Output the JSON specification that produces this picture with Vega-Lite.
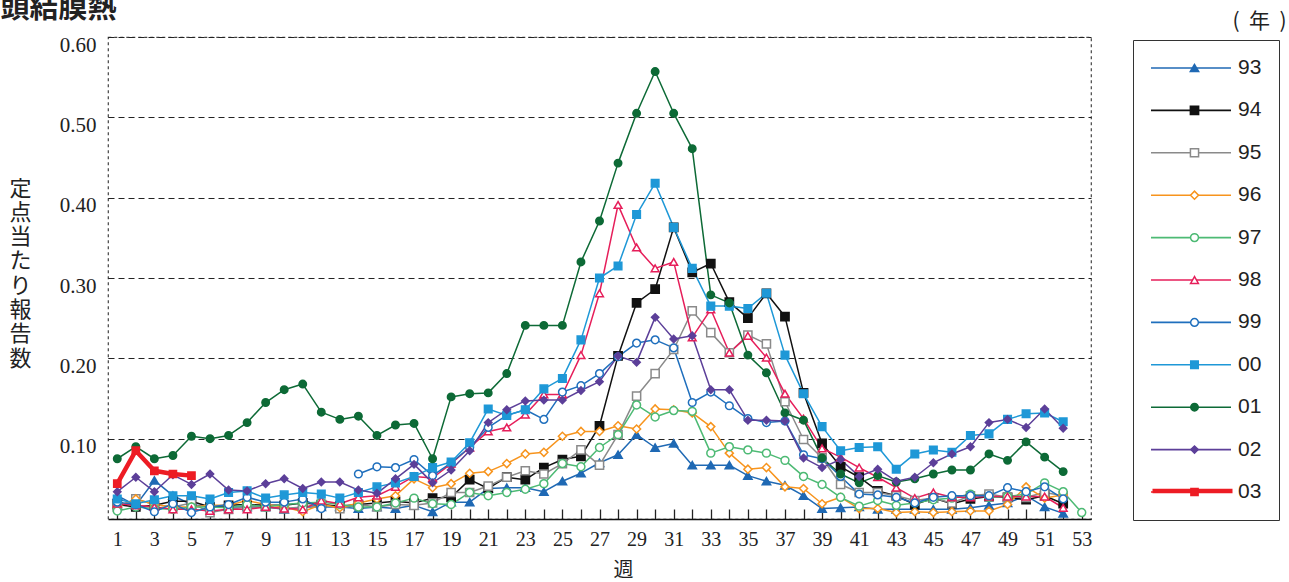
{
  "$schema": "https://vega.github.io/schema/vega-lite/v6.json",
  "width": 983,
  "height": 482,
  "autosize": {"type": "none"},
  "padding": {"left": 108, "top": 37, "right": 198, "bottom": 63},
  "background": "white",
  "config": {
    "view": {"stroke": "#444", "strokeDash": [3, 3], "strokeWidth": 1.2},
    "axis": {"labelColor": "#222", "titleColor": "#222"}
  },
  "data": {"values": [
{"s":"93","w":1,"v":0.029},{"s":"93","w":2,"v":0.017},{"s":"93","w":3,"v":0.048},{"s":"93","w":4,"v":0.029},{"s":"93","w":5,"v":0.018},{"s":"93","w":6,"v":0.015},{"s":"93","w":7,"v":0.015},{"s":"93","w":8,"v":0.015},{"s":"93","w":9,"v":0.015},{"s":"93","w":10,"v":0.012},{"s":"93","w":11,"v":0.015},{"s":"93","w":12,"v":0.015},{"s":"93","w":13,"v":0.015},{"s":"93","w":14,"v":0.013},{"s":"93","w":15,"v":0.015},{"s":"93","w":16,"v":0.013},{"s":"93","w":17,"v":0.017},{"s":"93","w":18,"v":0.009},{"s":"93","w":19,"v":0.021},{"s":"93","w":20,"v":0.021},{"s":"93","w":21,"v":0.038},{"s":"93","w":22,"v":0.039},{"s":"93","w":23,"v":0.039},{"s":"93","w":24,"v":0.034},{"s":"93","w":25,"v":0.047},{"s":"93","w":26,"v":0.057},{"s":"93","w":27,"v":0.070},{"s":"93","w":28,"v":0.080},{"s":"93","w":29,"v":0.105},{"s":"93","w":30,"v":0.089},{"s":"93","w":31,"v":0.094},{"s":"93","w":32,"v":0.067},{"s":"93","w":33,"v":0.067},{"s":"93","w":34,"v":0.067},{"s":"93","w":35,"v":0.054},{"s":"93","w":36,"v":0.047},{"s":"93","w":37,"v":0.042},{"s":"93","w":38,"v":0.029},{"s":"93","w":39,"v":0.013},{"s":"93","w":40,"v":0.014},{"s":"93","w":41,"v":0.015},{"s":"93","w":42,"v":0.012},{"s":"93","w":43,"v":0.012},{"s":"93","w":44,"v":0.012},{"s":"93","w":45,"v":0.012},{"s":"93","w":46,"v":0.012},{"s":"93","w":47,"v":0.014},{"s":"93","w":48,"v":0.017},{"s":"93","w":49,"v":0.020},{"s":"93","w":50,"v":0.029},{"s":"93","w":51,"v":0.015},{"s":"93","w":52,"v":0.007},
{"s":"94","w":1,"v":0.018},{"s":"94","w":2,"v":0.015},{"s":"94","w":3,"v":0.017},{"s":"94","w":4,"v":0.022},{"s":"94","w":5,"v":0.022},{"s":"94","w":6,"v":0.015},{"s":"94","w":7,"v":0.017},{"s":"94","w":8,"v":0.018},{"s":"94","w":9,"v":0.017},{"s":"94","w":10,"v":0.017},{"s":"94","w":11,"v":0.020},{"s":"94","w":12,"v":0.018},{"s":"94","w":13,"v":0.016},{"s":"94","w":14,"v":0.018},{"s":"94","w":15,"v":0.020},{"s":"94","w":16,"v":0.022},{"s":"94","w":17,"v":0.020},{"s":"94","w":18,"v":0.026},{"s":"94","w":19,"v":0.027},{"s":"94","w":20,"v":0.049},{"s":"94","w":21,"v":0.038},{"s":"94","w":22,"v":0.052},{"s":"94","w":23,"v":0.049},{"s":"94","w":24,"v":0.064},{"s":"94","w":25,"v":0.074},{"s":"94","w":26,"v":0.078},{"s":"94","w":27,"v":0.116},{"s":"94","w":28,"v":0.203},{"s":"94","w":29,"v":0.269},{"s":"94","w":30,"v":0.286},{"s":"94","w":31,"v":0.363},{"s":"94","w":32,"v":0.307},{"s":"94","w":33,"v":0.318},{"s":"94","w":34,"v":0.270},{"s":"94","w":35,"v":0.250},{"s":"94","w":36,"v":0.281},{"s":"94","w":37,"v":0.252},{"s":"94","w":38,"v":0.157},{"s":"94","w":39,"v":0.094},{"s":"94","w":40,"v":0.065},{"s":"94","w":41,"v":0.052},{"s":"94","w":42,"v":0.035},{"s":"94","w":43,"v":0.029},{"s":"94","w":44,"v":0.018},{"s":"94","w":45,"v":0.026},{"s":"94","w":46,"v":0.019},{"s":"94","w":47,"v":0.025},{"s":"94","w":48,"v":0.028},{"s":"94","w":49,"v":0.027},{"s":"94","w":50,"v":0.024},{"s":"94","w":51,"v":0.029},{"s":"94","w":52,"v":0.019},
{"s":"95","w":1,"v":0.015},{"s":"95","w":2,"v":0.025},{"s":"95","w":3,"v":0.018},{"s":"95","w":4,"v":0.015},{"s":"95","w":5,"v":0.020},{"s":"95","w":6,"v":0.008},{"s":"95","w":7,"v":0.012},{"s":"95","w":8,"v":0.015},{"s":"95","w":9,"v":0.015},{"s":"95","w":10,"v":0.013},{"s":"95","w":11,"v":0.015},{"s":"95","w":12,"v":0.018},{"s":"95","w":13,"v":0.013},{"s":"95","w":14,"v":0.018},{"s":"95","w":15,"v":0.015},{"s":"95","w":16,"v":0.018},{"s":"95","w":17,"v":0.017},{"s":"95","w":18,"v":0.020},{"s":"95","w":19,"v":0.033},{"s":"95","w":20,"v":0.033},{"s":"95","w":21,"v":0.041},{"s":"95","w":22,"v":0.052},{"s":"95","w":23,"v":0.060},{"s":"95","w":24,"v":0.056},{"s":"95","w":25,"v":0.069},{"s":"95","w":26,"v":0.086},{"s":"95","w":27,"v":0.067},{"s":"95","w":28,"v":0.105},{"s":"95","w":29,"v":0.153},{"s":"95","w":30,"v":0.181},{"s":"95","w":31,"v":0.211},{"s":"95","w":32,"v":0.259},{"s":"95","w":33,"v":0.232},{"s":"95","w":34,"v":0.207},{"s":"95","w":35,"v":0.229},{"s":"95","w":36,"v":0.218},{"s":"95","w":37,"v":0.146},{"s":"95","w":38,"v":0.099},{"s":"95","w":39,"v":0.076},{"s":"95","w":40,"v":0.043},{"s":"95","w":41,"v":0.033},{"s":"95","w":42,"v":0.033},{"s":"95","w":43,"v":0.029},{"s":"95","w":44,"v":0.023},{"s":"95","w":45,"v":0.026},{"s":"95","w":46,"v":0.020},{"s":"95","w":47,"v":0.029},{"s":"95","w":48,"v":0.031},{"s":"95","w":49,"v":0.027},{"s":"95","w":50,"v":0.027},{"s":"95","w":51,"v":0.033},{"s":"95","w":52,"v":0.029},
{"s":"96","w":1,"v":0.015},{"s":"96","w":2,"v":0.025},{"s":"96","w":3,"v":0.018},{"s":"96","w":4,"v":0.015},{"s":"96","w":5,"v":0.015},{"s":"96","w":6,"v":0.017},{"s":"96","w":7,"v":0.017},{"s":"96","w":8,"v":0.023},{"s":"96","w":9,"v":0.018},{"s":"96","w":10,"v":0.015},{"s":"96","w":11,"v":0.009},{"s":"96","w":12,"v":0.018},{"s":"96","w":13,"v":0.014},{"s":"96","w":14,"v":0.020},{"s":"96","w":15,"v":0.025},{"s":"96","w":16,"v":0.029},{"s":"96","w":17,"v":0.050},{"s":"96","w":18,"v":0.039},{"s":"96","w":19,"v":0.044},{"s":"96","w":20,"v":0.057},{"s":"96","w":21,"v":0.059},{"s":"96","w":22,"v":0.069},{"s":"96","w":23,"v":0.081},{"s":"96","w":24,"v":0.083},{"s":"96","w":25,"v":0.103},{"s":"96","w":26,"v":0.109},{"s":"96","w":27,"v":0.109},{"s":"96","w":28,"v":0.116},{"s":"96","w":29,"v":0.112},{"s":"96","w":30,"v":0.137},{"s":"96","w":31,"v":0.136},{"s":"96","w":32,"v":0.132},{"s":"96","w":33,"v":0.115},{"s":"96","w":34,"v":0.082},{"s":"96","w":35,"v":0.062},{"s":"96","w":36,"v":0.064},{"s":"96","w":37,"v":0.040},{"s":"96","w":38,"v":0.038},{"s":"96","w":39,"v":0.019},{"s":"96","w":40,"v":0.027},{"s":"96","w":41,"v":0.013},{"s":"96","w":42,"v":0.013},{"s":"96","w":43,"v":0.008},{"s":"96","w":44,"v":0.009},{"s":"96","w":45,"v":0.008},{"s":"96","w":46,"v":0.009},{"s":"96","w":47,"v":0.010},{"s":"96","w":48,"v":0.010},{"s":"96","w":49,"v":0.018},{"s":"96","w":50,"v":0.040},{"s":"96","w":51,"v":0.026},{"s":"96","w":52,"v":0.030},
{"s":"97","w":1,"v":0.010},{"s":"97","w":2,"v":0.015},{"s":"97","w":3,"v":0.013},{"s":"97","w":4,"v":0.012},{"s":"97","w":5,"v":0.015},{"s":"97","w":6,"v":0.015},{"s":"97","w":7,"v":0.014},{"s":"97","w":8,"v":0.018},{"s":"97","w":9,"v":0.015},{"s":"97","w":10,"v":0.018},{"s":"97","w":11,"v":0.020},{"s":"97","w":12,"v":0.021},{"s":"97","w":13,"v":0.018},{"s":"97","w":14,"v":0.015},{"s":"97","w":15,"v":0.015},{"s":"97","w":16,"v":0.020},{"s":"97","w":17,"v":0.026},{"s":"97","w":18,"v":0.019},{"s":"97","w":19,"v":0.018},{"s":"97","w":20,"v":0.033},{"s":"97","w":21,"v":0.029},{"s":"97","w":22,"v":0.033},{"s":"97","w":23,"v":0.037},{"s":"97","w":24,"v":0.044},{"s":"97","w":25,"v":0.069},{"s":"97","w":26,"v":0.065},{"s":"97","w":27,"v":0.089},{"s":"97","w":28,"v":0.105},{"s":"97","w":29,"v":0.142},{"s":"97","w":30,"v":0.127},{"s":"97","w":31,"v":0.135},{"s":"97","w":32,"v":0.134},{"s":"97","w":33,"v":0.082},{"s":"97","w":34,"v":0.090},{"s":"97","w":35,"v":0.086},{"s":"97","w":36,"v":0.082},{"s":"97","w":37,"v":0.073},{"s":"97","w":38,"v":0.053},{"s":"97","w":39,"v":0.043},{"s":"97","w":40,"v":0.027},{"s":"97","w":41,"v":0.016},{"s":"97","w":42,"v":0.023},{"s":"97","w":43,"v":0.017},{"s":"97","w":44,"v":0.020},{"s":"97","w":45,"v":0.024},{"s":"97","w":46,"v":0.026},{"s":"97","w":47,"v":0.031},{"s":"97","w":48,"v":0.027},{"s":"97","w":49,"v":0.028},{"s":"97","w":50,"v":0.031},{"s":"97","w":51,"v":0.045},{"s":"97","w":52,"v":0.034},{"s":"97","w":53,"v":0.008},
{"s":"98","w":1,"v":0.019},{"s":"98","w":2,"v":0.017},{"s":"98","w":3,"v":0.015},{"s":"98","w":4,"v":0.012},{"s":"98","w":5,"v":0.012},{"s":"98","w":6,"v":0.010},{"s":"98","w":7,"v":0.012},{"s":"98","w":8,"v":0.012},{"s":"98","w":9,"v":0.015},{"s":"98","w":10,"v":0.013},{"s":"98","w":11,"v":0.012},{"s":"98","w":12,"v":0.023},{"s":"98","w":13,"v":0.019},{"s":"98","w":14,"v":0.027},{"s":"98","w":15,"v":0.029},{"s":"98","w":16,"v":0.040},{"s":"98","w":17,"v":0.053},{"s":"98","w":18,"v":0.051},{"s":"98","w":19,"v":0.069},{"s":"98","w":20,"v":0.089},{"s":"98","w":21,"v":0.109},{"s":"98","w":22,"v":0.114},{"s":"98","w":23,"v":0.130},{"s":"98","w":24,"v":0.155},{"s":"98","w":25,"v":0.155},{"s":"98","w":26,"v":0.204},{"s":"98","w":27,"v":0.281},{"s":"98","w":28,"v":0.391},{"s":"98","w":29,"v":0.338},{"s":"98","w":30,"v":0.312},{"s":"98","w":31,"v":0.320},{"s":"98","w":32,"v":0.226},{"s":"98","w":33,"v":0.261},{"s":"98","w":34,"v":0.207},{"s":"98","w":35,"v":0.228},{"s":"98","w":36,"v":0.201},{"s":"98","w":37,"v":0.156},{"s":"98","w":38,"v":0.125},{"s":"98","w":39,"v":0.088},{"s":"98","w":40,"v":0.077},{"s":"98","w":41,"v":0.064},{"s":"98","w":42,"v":0.052},{"s":"98","w":43,"v":0.039},{"s":"98","w":44,"v":0.026},{"s":"98","w":45,"v":0.033},{"s":"98","w":46,"v":0.027},{"s":"98","w":47,"v":0.027},{"s":"98","w":48,"v":0.028},{"s":"98","w":49,"v":0.028},{"s":"98","w":50,"v":0.028},{"s":"98","w":51,"v":0.028},{"s":"98","w":52,"v":0.014},
{"s":"99","w":1,"v":0.021},{"s":"99","w":2,"v":0.018},{"s":"99","w":3,"v":0.009},{"s":"99","w":4,"v":0.019},{"s":"99","w":5,"v":0.008},{"s":"99","w":6,"v":0.015},{"s":"99","w":7,"v":0.018},{"s":"99","w":8,"v":0.027},{"s":"99","w":9,"v":0.021},{"s":"99","w":10,"v":0.021},{"s":"99","w":11,"v":0.025},{"s":"99","w":12,"v":0.013},{"s":"99","w":13,"v":null},{"s":"99","w":14,"v":0.056},{"s":"99","w":15,"v":0.065},{"s":"99","w":16,"v":0.064},{"s":"99","w":17,"v":0.074},{"s":"99","w":18,"v":0.054},{"s":"99","w":19,"v":0.070},{"s":"99","w":20,"v":0.089},{"s":"99","w":21,"v":0.114},{"s":"99","w":22,"v":0.129},{"s":"99","w":23,"v":0.136},{"s":"99","w":24,"v":0.124},{"s":"99","w":25,"v":0.158},{"s":"99","w":26,"v":0.166},{"s":"99","w":27,"v":0.181},{"s":"99","w":28,"v":0.202},{"s":"99","w":29,"v":0.219},{"s":"99","w":30,"v":0.223},{"s":"99","w":31,"v":0.213},{"s":"99","w":32,"v":0.145},{"s":"99","w":33,"v":0.158},{"s":"99","w":34,"v":0.141},{"s":"99","w":35,"v":0.125},{"s":"99","w":36,"v":0.120},{"s":"99","w":37,"v":0.122},{"s":"99","w":38,"v":0.080},{"s":"99","w":39,"v":0.075},{"s":"99","w":40,"v":0.053},{"s":"99","w":41,"v":0.031},{"s":"99","w":42,"v":0.030},{"s":"99","w":43,"v":0.027},{"s":"99","w":44,"v":0.020},{"s":"99","w":45,"v":0.027},{"s":"99","w":46,"v":0.029},{"s":"99","w":47,"v":0.029},{"s":"99","w":48,"v":0.029},{"s":"99","w":49,"v":0.039},{"s":"99","w":50,"v":0.034},{"s":"99","w":51,"v":0.040},{"s":"99","w":52,"v":0.025},
{"s":"00","w":1,"v":0.025},{"s":"00","w":2,"v":0.019},{"s":"00","w":3,"v":0.024},{"s":"00","w":4,"v":0.029},{"s":"00","w":5,"v":0.029},{"s":"00","w":6,"v":0.025},{"s":"00","w":7,"v":0.033},{"s":"00","w":8,"v":0.035},{"s":"00","w":9,"v":0.026},{"s":"00","w":10,"v":0.030},{"s":"00","w":11,"v":0.033},{"s":"00","w":12,"v":0.031},{"s":"00","w":13,"v":0.026},{"s":"00","w":14,"v":0.033},{"s":"00","w":15,"v":0.040},{"s":"00","w":16,"v":0.045},{"s":"00","w":17,"v":0.053},{"s":"00","w":18,"v":0.064},{"s":"00","w":19,"v":0.071},{"s":"00","w":20,"v":0.095},{"s":"00","w":21,"v":0.137},{"s":"00","w":22,"v":0.129},{"s":"00","w":23,"v":0.136},{"s":"00","w":24,"v":0.162},{"s":"00","w":25,"v":0.175},{"s":"00","w":26,"v":0.223},{"s":"00","w":27,"v":0.300},{"s":"00","w":28,"v":0.315},{"s":"00","w":29,"v":0.379},{"s":"00","w":30,"v":0.418},{"s":"00","w":31,"v":0.363},{"s":"00","w":32,"v":0.312},{"s":"00","w":33,"v":0.265},{"s":"00","w":34,"v":0.265},{"s":"00","w":35,"v":0.262},{"s":"00","w":36,"v":0.281},{"s":"00","w":37,"v":0.204},{"s":"00","w":38,"v":0.156},{"s":"00","w":39,"v":0.115},{"s":"00","w":40,"v":0.085},{"s":"00","w":41,"v":0.089},{"s":"00","w":42,"v":0.090},{"s":"00","w":43,"v":0.062},{"s":"00","w":44,"v":0.081},{"s":"00","w":45,"v":0.086},{"s":"00","w":46,"v":0.083},{"s":"00","w":47,"v":0.104},{"s":"00","w":48,"v":0.106},{"s":"00","w":49,"v":0.124},{"s":"00","w":50,"v":0.131},{"s":"00","w":51,"v":0.132},{"s":"00","w":52,"v":0.121},
{"s":"01","w":1,"v":0.075},{"s":"01","w":2,"v":0.090},{"s":"01","w":3,"v":0.075},{"s":"01","w":4,"v":0.079},{"s":"01","w":5,"v":0.103},{"s":"01","w":6,"v":0.100},{"s":"01","w":7,"v":0.104},{"s":"01","w":8,"v":0.120},{"s":"01","w":9,"v":0.145},{"s":"01","w":10,"v":0.161},{"s":"01","w":11,"v":0.168},{"s":"01","w":12,"v":0.133},{"s":"01","w":13,"v":0.124},{"s":"01","w":14,"v":0.128},{"s":"01","w":15,"v":0.104},{"s":"01","w":16,"v":0.117},{"s":"01","w":17,"v":0.119},{"s":"01","w":18,"v":0.075},{"s":"01","w":19,"v":0.152},{"s":"01","w":20,"v":0.156},{"s":"01","w":21,"v":0.157},{"s":"01","w":22,"v":0.181},{"s":"01","w":23,"v":0.241},{"s":"01","w":24,"v":0.241},{"s":"01","w":25,"v":0.241},{"s":"01","w":26,"v":0.320},{"s":"01","w":27,"v":0.371},{"s":"01","w":28,"v":0.443},{"s":"01","w":29,"v":0.505},{"s":"01","w":30,"v":0.557},{"s":"01","w":31,"v":0.505},{"s":"01","w":32,"v":0.461},{"s":"01","w":33,"v":0.279},{"s":"01","w":34,"v":0.269},{"s":"01","w":35,"v":0.204},{"s":"01","w":36,"v":0.182},{"s":"01","w":37,"v":0.132},{"s":"01","w":38,"v":0.123},{"s":"01","w":39,"v":0.076},{"s":"01","w":40,"v":0.056},{"s":"01","w":41,"v":0.045},{"s":"01","w":42,"v":0.054},{"s":"01","w":43,"v":0.046},{"s":"01","w":44,"v":0.050},{"s":"01","w":45,"v":0.056},{"s":"01","w":46,"v":0.061},{"s":"01","w":47,"v":0.061},{"s":"01","w":48,"v":0.081},{"s":"01","w":49,"v":0.073},{"s":"01","w":50,"v":0.096},{"s":"01","w":51,"v":0.077},{"s":"01","w":52,"v":0.059},
{"s":"02","w":1,"v":0.034},{"s":"02","w":2,"v":0.052},{"s":"02","w":3,"v":0.034},{"s":"02","w":4,"v":0.055},{"s":"02","w":5,"v":0.043},{"s":"02","w":6,"v":0.056},{"s":"02","w":7,"v":0.036},{"s":"02","w":8,"v":0.035},{"s":"02","w":9,"v":0.044},{"s":"02","w":10,"v":0.050},{"s":"02","w":11,"v":0.038},{"s":"02","w":12,"v":0.046},{"s":"02","w":13,"v":0.046},{"s":"02","w":14,"v":0.036},{"s":"02","w":15,"v":0.032},{"s":"02","w":16,"v":0.050},{"s":"02","w":17,"v":0.068},{"s":"02","w":18,"v":0.045},{"s":"02","w":19,"v":0.061},{"s":"02","w":20,"v":0.085},{"s":"02","w":21,"v":0.120},{"s":"02","w":22,"v":0.136},{"s":"02","w":23,"v":0.147},{"s":"02","w":24,"v":0.148},{"s":"02","w":25,"v":0.148},{"s":"02","w":26,"v":0.160},{"s":"02","w":27,"v":0.171},{"s":"02","w":28,"v":0.203},{"s":"02","w":29,"v":0.195},{"s":"02","w":30,"v":0.251},{"s":"02","w":31,"v":0.224},{"s":"02","w":32,"v":0.228},{"s":"02","w":33,"v":0.161},{"s":"02","w":34,"v":0.161},{"s":"02","w":35,"v":0.123},{"s":"02","w":36,"v":0.123},{"s":"02","w":37,"v":0.122},{"s":"02","w":38,"v":0.076},{"s":"02","w":39,"v":0.064},{"s":"02","w":40,"v":0.074},{"s":"02","w":41,"v":0.053},{"s":"02","w":42,"v":0.062},{"s":"02","w":43,"v":0.047},{"s":"02","w":44,"v":0.052},{"s":"02","w":45,"v":0.070},{"s":"02","w":46,"v":0.081},{"s":"02","w":47,"v":0.090},{"s":"02","w":48,"v":0.120},{"s":"02","w":49,"v":0.124},{"s":"02","w":50,"v":0.114},{"s":"02","w":51,"v":0.137},{"s":"02","w":52,"v":0.113},
{"s":"03","w":1,"v":0.044},{"s":"03","w":2,"v":0.085},{"s":"03","w":3,"v":0.060},{"s":"03","w":4,"v":0.056},{"s":"03","w":5,"v":0.054}
  ]},
  "resolve": {"axis": {"x": "independent", "y": "independent"}},
  "layer": [
    {
      "transform": [{"filter": "datum.s !== '03'"}],
      "mark": {"type": "line", "invalid": "break-paths-filter-domains", "strokeWidth": 1.5, "strokeCap": "round", "strokeJoin": "round"},
      "encoding": {
        "x": {"field": "w", "type": "quantitative", "scale": {"domain": [0.5, 53.5], "nice": false, "zero": false},
          "axis": {"title": "週", "titleFont": "Noto Sans CJK JP", "titleFontSize": 20, "titleFontWeight": "normal", "titleX": 515, "titleY": 51, "titleAlign": "center", "titleBaseline": "middle",
            "values": [1,2,3,4,5,6,7,8,9,10,11,12,13,14,15,16,17,18,19,20,21,22,23,24,25,26,27,28,29,30,31,32,33,34,35,36,37,38,39,40,41,42,43,44,45,46,47,48,49,50,51,52,53],
            "labelExpr": "datum.value % 2 == 1 ? datum.label : ''", "labelFont": "Liberation Serif", "labelFontSize": 20, "labelPadding": 20, "labelFlush": false, "labelOverlap": false, "labelBound": false,
            "tickSize": -10, "tickColor": "#222", "tickWidth": 1.3, "domainColor": "#111", "domainWidth": 1.6, "grid": false}},
        "y": {"field": "v", "type": "quantitative", "scale": {"domain": [0, 0.6], "nice": false},
          "axis": {"title": ["定", "点", "当", "た", "り", "報", "告", "数"], "titleAngle": 0, "titleFont": "Noto Sans CJK JP", "titleFontSize": 22, "titleFontWeight": "normal", "titleLineHeight": 24.3, "titleAlign": "center", "titleBaseline": "top", "titleX": -88, "titleY": 141,
            "values": [0.1, 0.2, 0.3, 0.4, 0.5, 0.6], "format": ".2f", "labelFont": "Liberation Serif", "labelFontSize": 21, "labelFontWeight": "normal", "labelPadding": 16, "labelOffset": 8,
            "tickSize": -4, "tickColor": "#222", "domain": false, "grid": true, "gridColor": "#222", "gridDash": [6, 4], "gridWidth": 1.1}},
        "color": {"field": "s", "type": "nominal",
          "scale": {"domain": ["93","94","95","96","97","98","99","00","01","02","03"], "range": ["#1f69b4","#111111","#8a8a8a","#f7941d","#4dba74","#e61e5a","#1f6fbd","#1e98d7","#0d6a36","#5c3f99","#ed1c24"]},
          "legend": {"orient": "none", "legendX": 1025, "legendY": 3, "title": null, "symbolType": "stroke", "symbolSize": 6400, "symbolStrokeWidth": 1.6, "clipHeight": 22, "labelFont": "Liberation Sans", "labelFontSize": 21, "labelColor": "#222", "labelOffset": 6, "padding": 17, "rowPadding": 20.4, "strokeColor": "#333", "zindex": 1}}
      }
    },
    {
      "transform": [{"filter": "datum.s === '03'"}],
      "mark": {"type": "line", "strokeWidth": 4.5, "color": "#ed1c24", "strokeCap": "round", "strokeJoin": "round"},
      "encoding": {
        "x": {"field": "w", "type": "quantitative", "axis": null},
        "y": {"field": "v", "type": "quantitative", "axis": null},
        "color": {"field": "s", "type": "nominal", "legend": null},
        "opacity": {"field": "s", "type": "nominal", "scale": {"domain": ["03"], "range": [1]},
          "legend": {"orient": "none", "legendX": 1025, "legendY": 426, "title": null, "symbolType": "stroke", "symbolSize": 6400, "symbolStrokeWidth": 4.5, "symbolStrokeColor": "#ed1c24", "symbolOpacity": 1, "clipHeight": 22, "labelFont": "Liberation Sans", "labelFontSize": 21, "labelExpr": "''", "labelOpacity": 0, "labelOffset": 6, "padding": 17, "zindex": 1}}
      }
    },
    {
      "mark": {"type": "point", "filled": false, "strokeWidth": 1.5, "opacity": 1},
      "encoding": {
        "x": {"field": "w", "type": "quantitative",
          "axis": {"orient": "top", "title": "咽頭結膜熱", "labels": false, "ticks": false, "domain": false, "grid": false, "titleX": -137, "titleY": -20, "titleFont": "Noto Sans CJK JP", "titleFontSize": 29, "titleFontWeight": "bold", "titleAlign": "left", "titleBaseline": "alphabetic", "titleLimit": 400}},
        "y": {"field": "v", "type": "quantitative",
          "axis": {"orient": "right", "title": "(\u00a0\u00a0年\u00a0\u00a0)", "labels": false, "ticks": false, "domain": false, "grid": false, "titleAngle": 0, "titleX": 168, "titleY": -16, "titleFont": "Noto Sans CJK JP", "titleFontSize": 21, "titleFontWeight": "normal", "titleAlign": "center", "titleBaseline": "middle"}},
        "stroke": {"field": "s", "type": "nominal", "scale": {"domain": ["93","94","95","96","97","98","99","00","01","02","03","zz"], "range": ["#1f69b4","#111111","#8a8a8a","#f7941d","#4dba74","#e61e5a","#1f6fbd","#1e98d7","#0d6a36","#5c3f99","#ed1c24","white"]}},
        "fill": {"field": "s", "type": "nominal", "scale": {"domain": ["93","94","95","96","97","98","99","00","01","02","03","zz"], "range": ["#1f69b4","#111111","white","white","white","white","white","#1e98d7","#0d6a36","#5c3f99","#ed1c24","white"]}},
        "shape": {"field": "s", "type": "nominal", "scale": {"domain": ["93","94","95","96","97","98","99","00","01","02","03","zz"], "range": ["triangle-up","square","square","diamond","circle","triangle-up","circle","square","circle","diamond","square","circle"]},
          "legend": {"orient": "none", "legendX": 1059, "legendY": 3, "title": null, "clipHeight": 22, "labelFont": "Liberation Sans", "labelFontSize": 21, "labelOpacity": 0, "labelOffset": 6, "padding": 17, "rowPadding": 20.4, "symbolStrokeWidth": 1.5, "symbolOpacity": 1, "zindex": 2}},
        "size": {"field": "s", "type": "nominal", "scale": {"domain": ["93","94","95","96","97","98","99","00","01","02","03","zz"], "range": [70,50,55,75,75,70,75,55,60,170,240,0]}}
      }
    }
  ]
}
